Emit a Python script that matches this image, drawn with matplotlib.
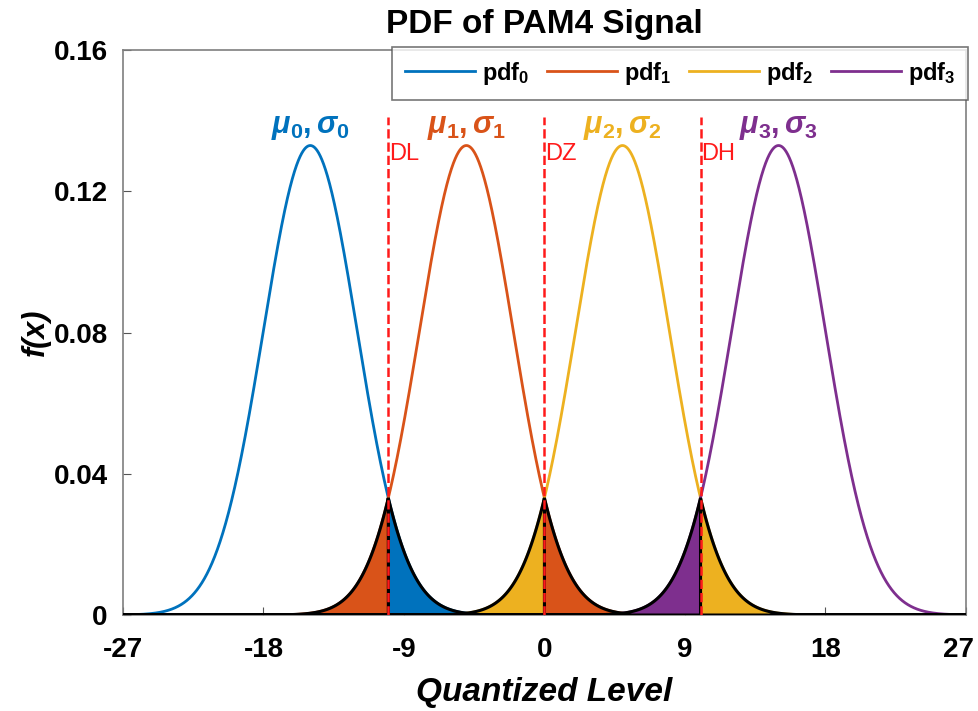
import numpy as np
import matplotlib.pyplot as plt
import matplotlib.transforms as mtransforms

# PAM4 level statistics
means = [-15, -5, 5, 15]
sigmas = [3, 3, 3, 3]
thresholds = [-10, 0, 10]
threshold_names = ['DL', 'DZ', 'DH']
series_names = ['pdf$_\\mathbf{0}$', 'pdf$_\\mathbf{1}$', 'pdf$_\\mathbf{2}$', 'pdf$_\\mathbf{3}$']
xticks = [-27, -18, -9, 0, 9, 18, 27]
yticks = [0, 0.04, 0.08, 0.12, 0.16]

colors = ['#0072BD', '#D95319', '#EDB120', '#7E2F8E']

plt.rcParams['font.family'] = ['Liberation Sans', 'DejaVu Sans']
plt.rcParams['font.weight'] = 'bold'
plt.rcParams['axes.unicode_minus'] = False
plt.rcParams['mathtext.fontset'] = 'custom'
plt.rcParams['mathtext.rm'] = 'Liberation Sans:bold'
plt.rcParams['mathtext.bf'] = 'Liberation Sans:bold'
plt.rcParams['mathtext.it'] = 'Liberation Sans:italic'


def gauss(x, mu, s):
    return np.exp(-(x - mu) ** 2 / (2 * s ** 2)) / (s * np.sqrt(2 * np.pi))


x = np.linspace(-27, 27, 5401)

fig = plt.figure(figsize=(9.79, 7.11), dpi=100)
ax = fig.add_axes([0.1256, 0.135, 0.861, 0.7945])

for i in range(4):
    ax.plot(x, gauss(x, means[i], sigmas[i]), color=colors[i], lw=2, label=series_names[i])

# error regions: tail of each pdf on the wrong side of its decision threshold
tails = [(0, thresholds[0], 27), (1, -27, thresholds[0]), (1, thresholds[1], 27),
         (2, -27, thresholds[1]), (2, thresholds[2], 27), (3, -27, thresholds[2])]
for k, a, b in tails:
    xs = np.linspace(a, b, 1500)
    ys = gauss(xs, means[k], sigmas[k])
    ax.fill(np.r_[xs, b, a], np.r_[ys, 0, 0], facecolor=colors[k],
            edgecolor='black', lw=2.2, zorder=3)

for t, name in zip(thresholds, threshold_names):
    ax.plot([t, t], [0, 0.141], '--', color='#FF1A1A', lw=1.8, zorder=4)
    ax.text(t + 0.05, 0.1305, name, color='#FF1A1A', fontsize=17,
            fontweight='normal', ha='left', va='center')

for i in range(4):
    ax.text(means[i], 0.1365, '$\\mu_\\mathbf{%d},\\sigma_\\mathbf{%d}$' % (i, i),
            color=colors[i], fontsize=22, ha='center', va='baseline')

ax.set_xlim(-27, 27)
ax.set_ylim(0, 0.16)
ax.set_xticks(xticks)
ax.set_yticks(yticks)
ax.set_yticklabels(['0', '0.04', '0.08', '0.12', '0.16'])
ax.tick_params(direction='in', labelsize=20, length=6, color='#555555')
ax.tick_params(axis='x', pad=16)
ax.tick_params(axis='y', pad=11)
for sp in ax.spines.values():
    sp.set_color('#7f7f7f')
    sp.set_linewidth(1.2)

# keep the last x tick label inside the figure
last = ax.get_xticklabels()[-1]
last.set_transform(last.get_transform() +
                   mtransforms.ScaledTranslation(-7 / 100, 0, fig.dpi_scale_trans))

ax.set_title('PDF of PAM4 Signal', fontsize=24, fontweight='bold', pad=12)
ax.set_xlabel('Quantized Level', fontsize=24, fontstyle='italic',
              fontweight='bold', labelpad=10)
ax.set_ylabel('f(x)', fontsize=22, fontstyle='italic', fontweight='bold',
              labelpad=2)

leg = ax.legend(loc='upper right', ncol=4, fontsize=17, handlelength=2.95,
                columnspacing=0.75, handletextpad=0.3, fancybox=False,
                bbox_to_anchor=(1.003, 1.006), borderaxespad=0.0, borderpad=0.55)
leg.get_frame().set_edgecolor('#555555')
leg.get_frame().set_linewidth(1.2)

fig.savefig('out.png', dpi=100)
